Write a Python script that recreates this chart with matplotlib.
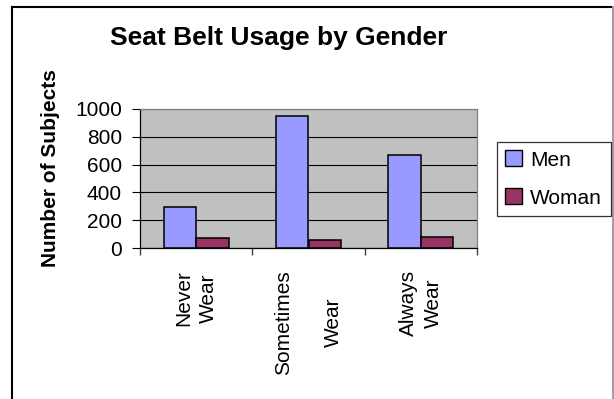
import matplotlib
matplotlib.use("Agg")
import matplotlib.pyplot as plt
from matplotlib.lines import Line2D
from matplotlib.patches import Patch
import numpy as np

# data
categories = ["Never\nWear", "Sometimes\nWear", "Always\nWear"]
men = [292, 947, 672]
woman = [70, 58, 80]
series_names = ["Men", "Woman"]
series_colors = ["#9999FF", "#993366"]
yticks = [0, 200, 400, 600, 800, 1000]

W, H = 614, 399
plt.rcParams['font.family'] = ['Liberation Sans', 'DejaVu Sans']

fig = plt.figure(figsize=(W / 100, H / 100), dpi=100)
fig.patch.set_facecolor('white')

# plot area in pixel coordinates
left, right, top, bottom = 140, 477, 109, 248
ax = fig.add_axes([left / W, 1 - bottom / H, (right - left) / W, (bottom - top) / H])
ax.set_facecolor('#C0C0C0')

x = np.arange(len(categories))
bw = 0.29
ax.bar(x - bw / 2, men, bw, color=series_colors[0], edgecolor='black', linewidth=1.1, zorder=3)
ax.bar(x + bw / 2, woman, bw, color=series_colors[1], edgecolor='black', linewidth=1.1, zorder=3)

ax.set_xlim(-0.5, len(categories) - 0.5)
ax.set_ylim(0, 1000)
ax.set_yticks(yticks)
ax.yaxis.grid(True, color='black', linewidth=0.8, zorder=1)
ax.set_axisbelow(True)

ax.tick_params(axis='y', direction='out', length=6, width=0.8, pad=7, labelsize=15)
ax.set_xticks(x)
ax.set_xticklabels(categories, rotation=90, fontsize=15, va='top', ha='center',
                   multialignment='center', linespacing=1.4)
ax.tick_params(axis='x', which='major', length=0, pad=16)
ax.set_xticks(np.arange(-0.5, len(categories)), minor=True)
ax.tick_params(axis='x', which='minor', direction='out', length=5, width=1, color='#404040')
ax.get_xticklabels()[1].set_linespacing(3.1)

for s in ['left', 'bottom']:
    ax.spines[s].set_color('black')
    ax.spines[s].set_linewidth(0.9)
for s in ['top', 'right']:
    ax.spines[s].set_color('#808080')
    ax.spines[s].set_linewidth(0.9)

fig.text(51 / W, 1 - 168 / H, "Number of Subjects", rotation=90, fontsize=15,
         fontweight='bold', ha='center', va='center')
fig.text(279 / W, 1 - 38 / H, "Seat Belt Usage by Gender", fontsize=19,
         fontweight='bold', ha='center', va='center')

handles = [Patch(facecolor=c, edgecolor='black', linewidth=1) for c in series_colors]
leg = fig.legend(handles, series_names, loc='upper left',
                 bbox_to_anchor=(497 / W, 1 - 142 / H), fontsize=15, frameon=True,
                 fancybox=False, edgecolor='black', handlelength=0.8, handleheight=0.8,
                 handletextpad=0.4, borderpad=0.4, labelspacing=0.9, borderaxespad=0)
leg.get_frame().set_linewidth(0.9)

# chart border
fig.add_artist(Line2D([12 / W, 12 / W], [0, 1 - 7 / H], transform=fig.transFigure, color='black', lw=1.5))
fig.add_artist(Line2D([12 / W, 612 / W], [1 - 7 / H, 1 - 7 / H], transform=fig.transFigure, color='black', lw=1.5))
fig.add_artist(Line2D([613 / W, 613 / W], [0, 1 - 7 / H], transform=fig.transFigure, color='#A0A0A0', lw=1.5))

fig.savefig("out.png", dpi=100)
